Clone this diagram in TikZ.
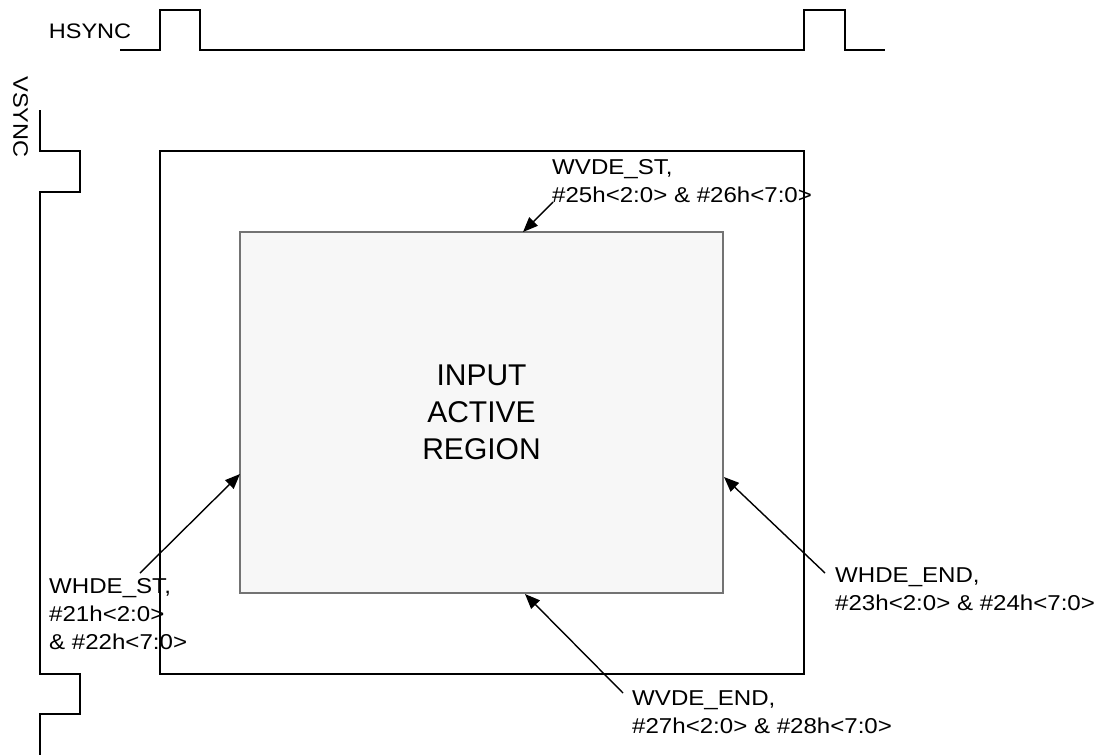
\documentclass[tikz,border=0pt]{standalone}
\usepackage{fontspec}
\setmainfont{Liberation Sans}
\newfontfamily\lblfont{Liberation Sans}[FakeStretch=1.12]
\usetikzlibrary{arrows.meta,positioning}

\begin{document}
\begin{tikzpicture}[x=1pt,y=-1pt,>={Triangle[length=15pt,width=12pt]},
  sig/.style={line width=1.6pt,line join=miter},
  lbl/.style={font=\lblfont\fontsize{21.5}{28}\selectfont,align=left,inner sep=0pt,anchor=north west},
  ptr/.style={->,line width=1.4pt}]
  \useasboundingbox (0,0) rectangle (1099,755);
  % sync waveforms
  \draw[sig] (120,50) -- (160,50) -- (160,10) -- (200,10) -- (200,50) -- (804,50)
    -- (804,10) -- (845,10) -- (845,50) -- (885,50);
  \draw[sig] (40,110) -- (40,151) -- (80,151) -- (80,192) -- (40,192) -- (40,674)
    -- (80,674) -- (80,714) -- (40,714) -- (40,755);
  \node[font=\lblfont\fontsize{21}{25}\selectfont] (hsync) at (90,31) {HSYNC};
  \node[font=\lblfont\fontsize{21}{25}\selectfont,rotate=-90] (vsync) at (20.5,117) {VSYNC};
  % frame and active region
  \node[draw,line width=1.6pt,minimum width=644pt,minimum height=523pt] (frame) at (482,412.5) {};
  \node[draw=black!55,fill=black!3,line width=1.2pt,minimum width=483pt,minimum height=361pt,
    align=center,font=\fontsize{30}{37}\selectfont] (act) at (481.5,412.5) {INPUT\\ACTIVE\\REGION};
  % register labels
  \node[lbl] (vst) at (552,159) {WVDE\_ST,\\\#25h<2:0> \& \#26h<7:0>};
  \node[lbl] (hst) at (49,578) {WHDE\_ST,\\\#21h<2:0>\\\& \#22h<7:0>};
  \node[lbl] (hend) at (835,567) {WHDE\_END,\\\#23h<2:0> \& \#24h<7:0>};
  \node[lbl] (vend) at (632,690) {WVDE\_END,\\\#27h<2:0> \& \#28h<7:0>};
  \coordinate (vstT) at (553,202);  \coordinate (vstH) at (523,232);
  \coordinate (hstT) at (140,573);  \coordinate (hstH) at (240,474);
  \coordinate (hendT) at (825,573); \coordinate (hendH) at (724,477);
  \coordinate (vendT) at (623,693); \coordinate (vendH) at (525,594);
  \draw[ptr] (vstT) -- (vstH);
  \draw[ptr] (hstT) -- (hstH);
  \draw[ptr] (hendT) -- (hendH);
  \draw[ptr] (vendT) -- (vendH);
\end{tikzpicture}
\end{document}
